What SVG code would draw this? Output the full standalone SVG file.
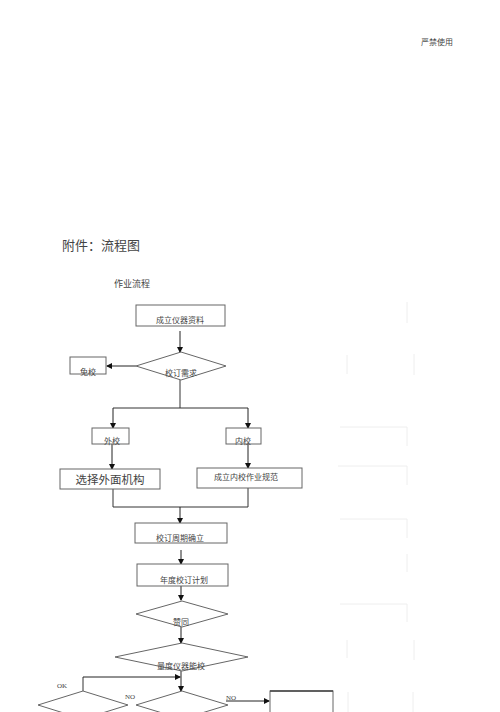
<svg xmlns="http://www.w3.org/2000/svg" width="500" height="712" viewBox="0 0 500 712">
<defs>
<marker id="ah" markerWidth="6" markerHeight="6" refX="5" refY="3" orient="auto" markerUnits="userSpaceOnUse">
<path d="M0,0 L6,3 L0,6 z" fill="#111"/>
</marker>
</defs>
<style>
.box{fill:#fff;stroke:#666;stroke-width:1}
.t{font-family:"Liberation Serif","Noto Sans CJK SC",serif;fill:#444;text-anchor:middle}
.s{font-size:8px}
.c{fill:none;stroke:#333;stroke-width:1}
.a{fill:none;stroke:#222;stroke-width:1;marker-end:url(#ah)}
.f{fill:none;stroke:#eee;stroke-width:1}
</style>
<rect width="500" height="712" fill="#fff"/>
<g id="faint">
<path class="f" d="M407,302V323 M347,355V374 M414,354V375 M340,427H407V446 M338,466H407V485 M340,519H407V538 M407,554V572 M340,604H407V622 M347,640V658 M414,640V660 M348,692V712 M413,692V712"/>
</g>
<text class="t" x="437" y="45" font-size="8">严禁使用</text>
<text class="t" x="62" y="250" font-size="13" style="text-anchor:start">附件：流程图</text>
<text class="t" x="132" y="287" font-size="9">作业流程</text>
<g id="connectors">
<line class="a" x1="180" y1="331" x2="180" y2="352"/>
<line class="a" x1="136" y1="366" x2="107" y2="366"/>
<path class="c" d="M180,380V408 M113,408H248"/>
<line class="a" x1="113" y1="408" x2="113" y2="428"/>
<line class="a" x1="248" y1="408" x2="248" y2="428"/>
<line class="a" x1="112" y1="444" x2="112" y2="469"/>
<line class="a" x1="248" y1="444" x2="248" y2="468"/>
<path class="c" d="M113,489V507 M248,488V507 M113,507H248"/>
<line class="a" x1="180" y1="507" x2="180" y2="523"/>
<line class="a" x1="181" y1="550" x2="181" y2="564"/>
<line class="a" x1="181" y1="586" x2="181" y2="600"/>
<line class="a" x1="181" y1="626" x2="181" y2="643"/>
<line class="a" x1="181" y1="670" x2="181" y2="691"/>
<path class="c" d="M83,691V677"/>
<line class="a" x1="83" y1="677" x2="180" y2="677"/>
<line class="a" x1="226" y1="701" x2="269" y2="701"/>
</g>
<g id="n1"><rect class="box" x="136" y="305" width="89" height="21"/><text class="t s" x="180" y="323">成立仪器资料</text></g>
<g id="n2"><polygon class="box" points="181,352 226,366 181,380 136,366"/><text class="t s" x="181" y="376">校订需求</text></g>
<g id="n3"><rect class="box" x="70" y="357" width="36" height="17"/><text class="t s" x="88" y="375">免校</text></g>
<g id="n4"><rect class="box" x="92" y="428" width="37" height="16"/><text class="t s" x="112" y="444">外校</text></g>
<g id="n5"><rect class="box" x="226" y="428" width="35" height="16"/><text class="t s" x="243" y="444">内校</text></g>
<g id="n6"><rect class="box" x="60" y="469" width="100" height="20"/><text class="t" x="110" y="484" font-size="11.5">选择外面机构</text></g>
<g id="n7"><rect class="box" x="197" y="468" width="105" height="20"/><text class="t s" x="246" y="480">成立内校作业规范</text></g>
<g id="n8"><rect class="box" x="135" y="523" width="92" height="20"/><text class="t s" x="180" y="541">校订周期确立</text></g>
<g id="n9"><rect class="box" x="137" y="564" width="91" height="22"/><text class="t s" x="184" y="583">年度校订计划</text></g>
<g id="n10"><polygon class="box" points="182,601 228,614 182,627 136,614"/><text class="t s" x="181" y="625">赞同</text></g>
<g id="n11"><polygon class="box" points="182,643 248,657 182,671 115,657"/><text class="t s" x="181" y="669">量度仪器能校</text></g>
<g id="n12"><polygon class="box" points="83,691 128,705 83,719 38,705"/></g>
<g id="n13"><polygon class="box" points="182,691 228,705 182,719 136,705"/></g>
<g id="n14"><rect class="box" x="270" y="691" width="63" height="30"/><line x1="270" y1="691" x2="333" y2="691" stroke="#444" stroke-width="1.5"/></g>
<text class="t" x="62" y="688" font-size="7">OK</text>
<text class="t" x="130" y="699" font-size="7">NO</text>
<text class="t" x="231" y="700" font-size="7">NO</text>
</svg>
